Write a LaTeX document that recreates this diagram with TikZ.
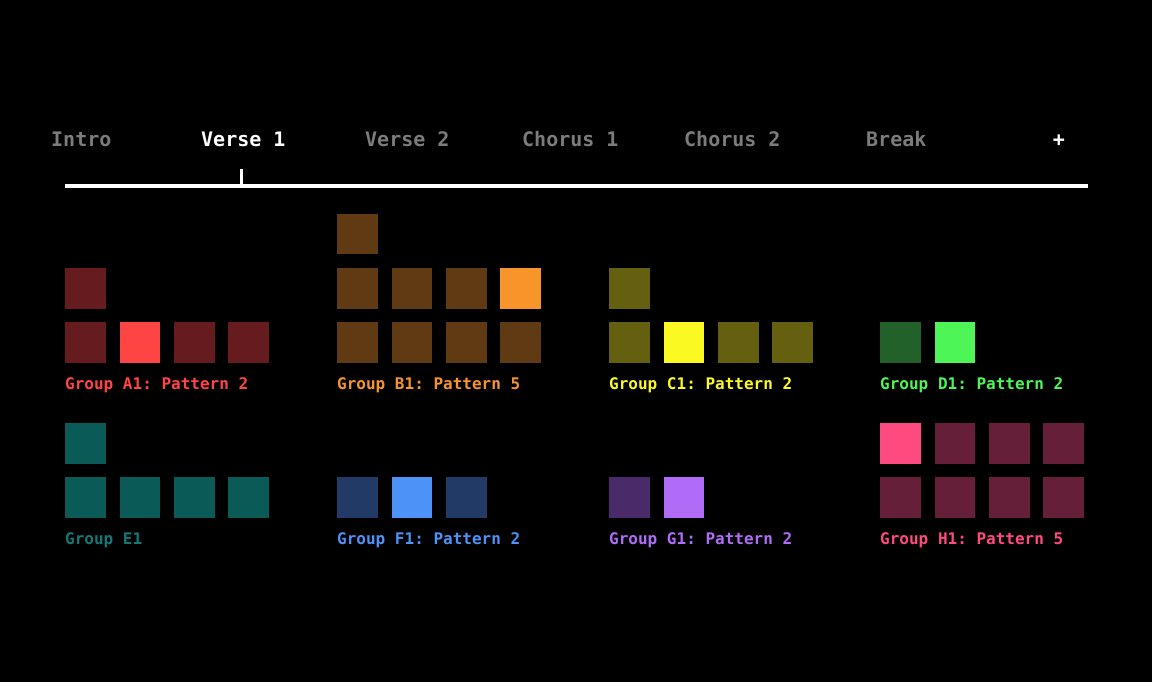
\documentclass[tikz,border=0pt]{standalone}
\usepackage{fontspec}
\setmonofont{DejaVu Sans Mono}
\definecolor{tabgray}{HTML}{7C7C7C}
\definecolor{adim}{HTML}{661C1E}
\definecolor{abright}{HTML}{FF4444}
\definecolor{bdim}{HTML}{603A12}
\definecolor{bbright}{HTML}{F7952A}
\definecolor{cdim}{HTML}{646010}
\definecolor{cbright}{HTML}{FAFA22}
\definecolor{ddim}{HTML}{22622A}
\definecolor{dbright}{HTML}{4EF556}
\definecolor{edim}{HTML}{0A5A58}
\definecolor{elabel}{HTML}{137876}
\definecolor{fdim}{HTML}{213A66}
\definecolor{fbright}{HTML}{4D92F7}
\definecolor{gdim}{HTML}{4A2A68}
\definecolor{gbright}{HTML}{B06CF7}
\definecolor{hdim}{HTML}{661F38}
\definecolor{hbright}{HTML}{FF4A80}
\tikzset{
  cell/.style={minimum size=40.7pt, inner sep=0pt, anchor=north west},
  tab/.style={anchor=base west, inner sep=0pt, text=tabgray, font=\fontsize{20}{20}\selectfont\ttfamily\bfseries},
  grouplabel/.style={anchor=base west, inner sep=0pt, font=\fontsize{16}{16}\selectfont\ttfamily\bfseries},
}
\begin{document}
\begin{tikzpicture}[x=1pt, y=-1pt]
\fill[black] (0,0) rectangle (1152,682);
\useasboundingbox (0,0) rectangle (1152,682);
% sections
\node[tab] (intro) at (51,147) {Intro};
\node[tab, text=white] (verse1) at (201,147) {Verse 1};
\node[tab] (verse2) at (365,147) {Verse 2};
\node[tab] (chorus1) at (522,147) {Chorus 1};
\node[tab] (chorus2) at (684,147) {Chorus 2};
\node[tab] (break) at (866,147) {Break};
\node[tab, text=white, anchor=base] (plus) at (1059,147) {+};
% timeline
\coordinate (tl-l) at (65,186);
\coordinate (tl-r) at (1088,186);
\coordinate (head) at (241,186);
\coordinate (head-top) at (241,169);
\draw[white, line width=4pt] (tl-l) -- (tl-r);
\draw[white, line width=3pt] (head) -- (head-top);
% group A
\foreach \c/\r in {0/0, 2/0, 3/0, 0/1}{
    \node[cell, fill=adim] (a-\c-\r) at (65+54.3*\c, 322-54.3*\r) {};
}
\node[cell, fill=abright] (a-1-0) at (119.3,322) {};
\node[grouplabel, text=abright] (a-label) at (65,389) {Group A1: Pattern 2};
% group B
\foreach \c/\r in {0/0, 1/0, 2/0, 3/0, 0/1, 1/1, 2/1, 0/2}{
    \node[cell, fill=bdim] (b-\c-\r) at (337+54.3*\c, 322-54.3*\r) {};
}
\node[cell, fill=bbright] (b-3-1) at (499.9,267.7) {};
\node[grouplabel, text=bbright] (b-label) at (337,389) {Group B1: Pattern 5};
% group C
\foreach \c/\r in {0/0, 2/0, 3/0, 0/1}{
    \node[cell, fill=cdim] (c-\c-\r) at (609+54.3*\c, 322-54.3*\r) {};
}
\node[cell, fill=cbright] (c-1-0) at (663.3,322) {};
\node[grouplabel, text=cbright] (c-label) at (609,389) {Group C1: Pattern 2};
% group D
\node[cell, fill=ddim] (d-0-0) at (880,322) {};
\node[cell, fill=dbright] (d-1-0) at (934.3,322) {};
\node[grouplabel, text=dbright] (d-label) at (880,389) {Group D1: Pattern 2};
% group E
\foreach \c/\r in {0/0, 1/0, 2/0, 3/0, 0/1}{
    \node[cell, fill=edim] (e-\c-\r) at (65+54.3*\c, 477-54.3*\r) {};
}
\node[grouplabel, text=elabel] (e-label) at (65,544) {Group E1};
% group F
\node[cell, fill=fdim] (f-0-0) at (337,477) {};
\node[cell, fill=fbright] (f-1-0) at (391.3,477) {};
\node[cell, fill=fdim] (f-2-0) at (445.6,477) {};
\node[grouplabel, text=fbright] (f-label) at (337,544) {Group F1: Pattern 2};
% group G
\node[cell, fill=gdim] (g-0-0) at (609,477) {};
\node[cell, fill=gbright] (g-1-0) at (663.3,477) {};
\node[grouplabel, text=gbright] (g-label) at (609,544) {Group G1: Pattern 2};
% group H
\foreach \c/\r in {0/0, 1/0, 2/0, 3/0, 1/1, 2/1, 3/1}{
    \node[cell, fill=hdim] (h-\c-\r) at (880+54.3*\c, 477-54.3*\r) {};
}
\node[cell, fill=hbright] (h-0-1) at (880,422.7) {};
\node[grouplabel, text=hbright] (h-label) at (880,544) {Group H1: Pattern 5};
\end{tikzpicture}
\end{document}
